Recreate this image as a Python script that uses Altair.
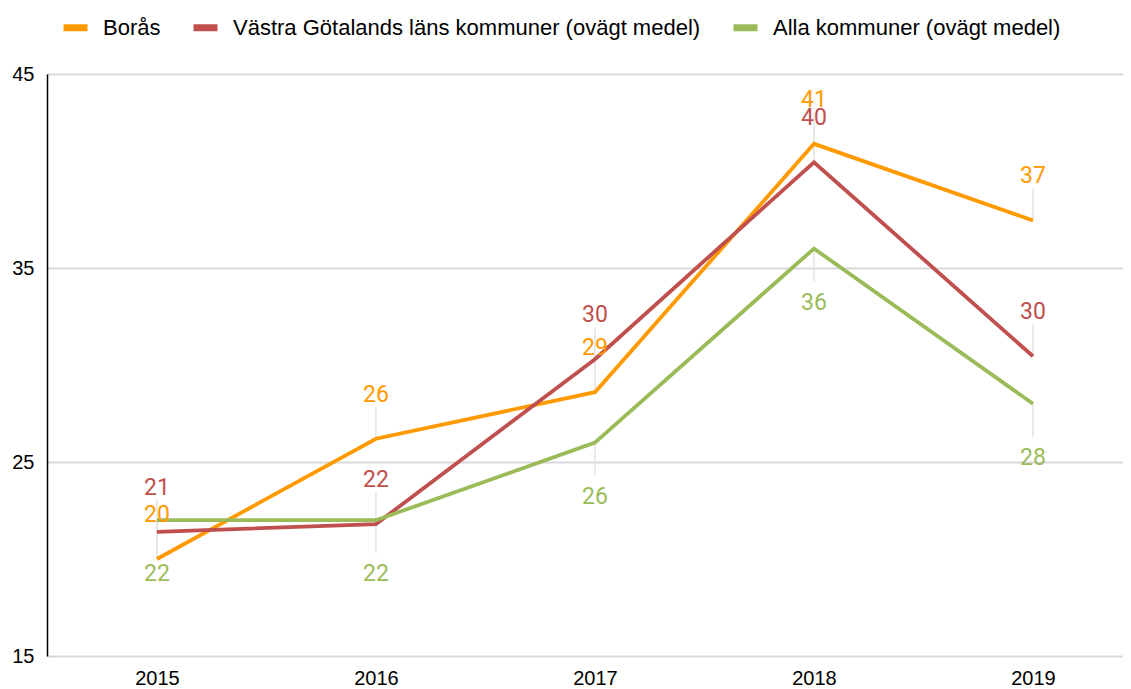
import altair as alt
import pandas as pd

years = [2015, 2016, 2017, 2018, 2019]
series_names = [
    "Borås",
    "Västra Götalands läns kommuner (ovägt medel)",
    "Alla kommuner (ovägt medel)",
]
boras = [20.0, 26.2, 28.6, 41.4, 37.45]
vastra = [21.4, 21.8, 30.3, 40.45, 30.45]
alla = [22.0, 22.0, 26.0, 36.0, 28.0]
label_side = ["above", "above", "below"]
colors = ["#FF9900", "#C0504D", "#9BBB59"]
y_ticks = [15, 25, 35, 45]

rows = []
for name, vals, side in zip(series_names, [boras, vastra, alla], label_side):
    for yr, v in zip(years, vals):
        rows.append({"year": yr, "value": v, "series": name, "side": side})
df = pd.DataFrame(rows)

AXIS_FONT = "Liberation Sans"
LABEL_FONT = "Roboto"

x_enc = alt.X(
    "year:Q",
    scale=alt.Scale(domain=[2014.498, 2019.411], nice=False, zero=False),
    axis=alt.Axis(
        values=years, format="d", grid=False, domain=False, ticks=False,
        labelFont=AXIS_FONT, labelFontSize=20, labelColor="#000000",
        labelPadding=12, title=None,
    ),
)
y_enc = alt.Y(
    "value:Q",
    scale=alt.Scale(domain=[15, 45], nice=False, zero=False),
    axis=alt.Axis(
        values=y_ticks, grid=True, gridColor="#d9d9d9", gridWidth=2,
        domain=True, domainColor="#000000", domainWidth=1.5, ticks=False,
        labelFont=AXIS_FONT, labelFontSize=20, labelColor="#000000",
        labelPadding=13, title=None,
    ),
)
color_scale = alt.Scale(domain=series_names, range=colors)

base = alt.Chart(df)

leaders_up = base.transform_filter(alt.datum.side == "above").mark_rule(
    color="#e3e3e3", strokeWidth=1.5, y2Offset=-32
).encode(x=x_enc, y=y_enc, y2="value:Q")

leaders_down = base.transform_filter(alt.datum.side == "below").mark_rule(
    color="#e3e3e3", strokeWidth=1.5, y2Offset=33
).encode(x=x_enc, y=y_enc, y2="value:Q")

lines = base.mark_line(strokeWidth=3.8).encode(
    x=x_enc,
    y=y_enc,
    color=alt.Color(
        "series:N", scale=color_scale, sort=series_names,
        legend=alt.Legend(
            title=None, orient="none", direction="horizontal",
            legendX=13, legendY=-62,
            symbolType="M-1,0H1", symbolSize=576, symbolStrokeWidth=7,
            labelFont=AXIS_FONT, labelFontSize=22, labelColor="#000000",
            labelOffset=12, columnPadding=18, labelLimit=0,
        ),
    ),
    order=alt.Order("series:N"),
)

labels_up = base.transform_filter(alt.datum.side == "above").mark_text(
    font=LABEL_FONT, fontSize=23, baseline="middle", align="center", dy=-44
).encode(
    x=x_enc, y=y_enc, text=alt.Text("value:Q", format=".0f"),
    color=alt.Color("series:N", scale=color_scale, legend=None),
)

labels_down = base.transform_filter(alt.datum.side == "below").mark_text(
    font=LABEL_FONT, fontSize=23, baseline="middle", align="center", dy=54
).encode(
    x=x_enc, y=y_enc, text=alt.Text("value:Q", format=".0f"),
    color=alt.Color("series:N", scale=color_scale, legend=None),
)

chart = (
    alt.layer(leaders_up, leaders_down, lines, labels_up, labels_down)
    .properties(
        width=1076, height=582,
        autosize=alt.AutoSizeParams(type="none"),
        padding={"left": 39, "top": 66, "right": 0, "bottom": 34},
    )
    .configure_view(stroke=None)
)

chart.save("out.html", embed_options={"renderer": "svg", "actions": False})
